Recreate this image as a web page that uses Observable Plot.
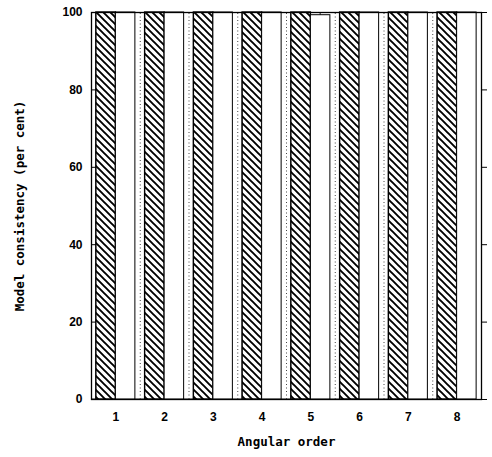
<!DOCTYPE html>
<html>
<head>
<meta charset="utf-8">
<script src="https://cdn.jsdelivr.net/npm/d3@7"></script>
<script src="https://cdn.jsdelivr.net/npm/@observablehq/plot@0.6"></script>
<style>
  html, body { margin: 0; padding: 0; background: #fff; }
  svg { display: block; }
</style>
</head>
<body>
<div id="chart"></div>
<script>
// Angular order categories
const orders = [1, 2, 3, 4, 5, 6, 7, 8];
// Model consistency (per cent) for the three models at each order
const stippled = [100, 100, 100, 100, 100, 100, 100, 100];
const hatched  = [100, 100, 100, 100, 100, 100, 100, 100];
const open     = [100, 100, 100, 100, 99.3, 100, 100, 100];
const yTicks = [0, 20, 40, 60, 80, 100];

// each bar spans 0.4 units; the three bars of an order sit side by side
const barWidth = 0.4;
const rows = (values, offset) =>
  orders.map((o, i) => ({order: o, value: values[i], x1: o + offset, x2: o + offset + barWidth}));

const stipRows = rows(stippled, -0.8);
const hatchRows = rows(hatched, -0.4);
const openRows = rows(open, 0);

// pattern definition for the hatched fill
const defs = () => {
  const ns = "http://www.w3.org/2000/svg";
  const d = document.createElementNS(ns, "defs");
  d.innerHTML = `
    <pattern id="hatch" patternUnits="userSpaceOnUse" width="7" height="7">
      <rect width="7" height="7" fill="#fff"/>
      <path d="M-1,-1 L8,8 M-2,5 L2,9 M5,-2 L9,2" stroke="#000" stroke-width="1.9"/>
    </pattern>`;
  return d;
};

const font = "Liberation Sans, Arial, sans-serif";
const mono = "DejaVu Sans Mono, monospace";

const chart = Plot.plot({
  width: 492,
  height: 457,
  marginLeft: 91,
  marginRight: 11,
  marginTop: 12,
  marginBottom: 58,
  style: {fontFamily: font, fontSize: "12px", fontWeight: "bold", color: "#000", background: "#fff"},
  x: {domain: [0.5, 8.5]},
  y: {domain: [0, 100]},
  marks: [
    defs,
    // stippled bars (partly covered by the neighbouring open bar)
    Plot.rectY(stipRows, {x1: "x1", x2: "x2", y: "value", fill: "#fff", stroke: "#000", strokeWidth: 0.9, clip: "frame"}),
    Plot.ruleX(stipRows, {x: d => d.x1 + 0.3, y1: 0, y2: "value", stroke: "#444", strokeWidth: 1, strokeDasharray: "1,2.5", clip: "frame"}),
    // hatched bars
    Plot.rectY(hatchRows, {x1: "x1", x2: "x2", y: "value", fill: "url(#hatch)", stroke: "#000", strokeWidth: 1.4}),
    // open bars
    Plot.rectY(openRows, {x1: "x1", x2: "x2", y: "value", fill: "#fff", stroke: "#000", strokeWidth: 1}),
    Plot.frame({stroke: "#000", strokeWidth: 1.3}),
    Plot.axisY({ticks: yTicks, tickSize: -5, tickPadding: 14, label: null, fontWeight: "bold"}),
    Plot.axisY({anchor: "right", ticks: yTicks, tickSize: 5, tickFormat: () => "", label: null}),
    Plot.axisX({ticks: orders, tickSize: 0, tickPadding: 13, label: null, fontWeight: "bold"}),
    Plot.text(["Angular order"], {frameAnchor: "bottom", dy: 46, fontFamily: mono, fontSize: 12.5, fontWeight: "bold"}),
    Plot.text(["Model consistency (per cent)"], {frameAnchor: "left", dx: -72, rotate: -90, textAnchor: "middle", fontFamily: mono, fontSize: 12.5, fontWeight: "bold"})
  ]
});
document.getElementById("chart").appendChild(chart);
</script>
</body>
</html>
